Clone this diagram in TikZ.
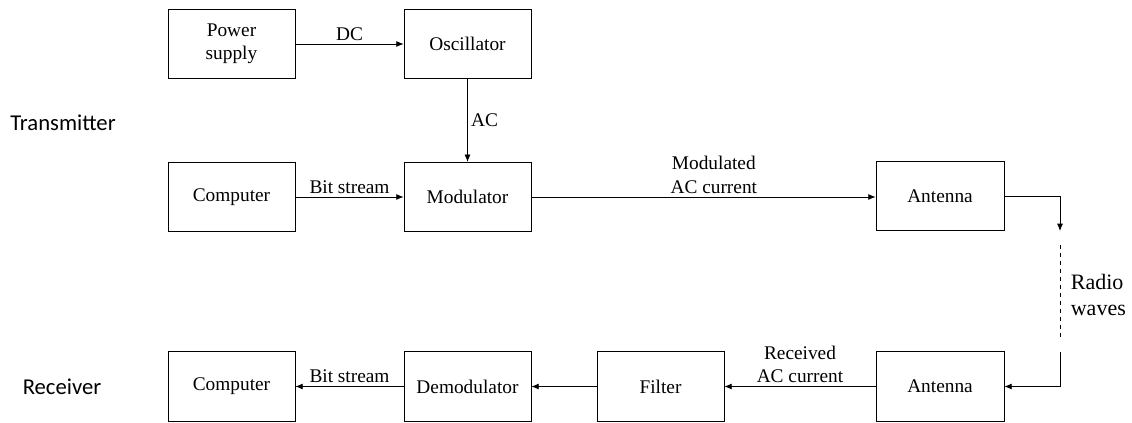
\documentclass[tikz,border=0pt]{standalone}
\usepackage{fontspec}
\setmainfont{Liberation Serif}
\newfontfamily\sidefont{Carlito}
\usetikzlibrary{arrows.meta}

\begin{document}
\begin{tikzpicture}[x=0.75pt, y=-0.75pt, line width=0.6pt, >={Latex[length=5.5pt,width=4.5pt]},
   block/.style={draw, minimum width=95.25pt, minimum height=52pt, inner sep=0pt,
                 align=center, font=\fontsize{14.5}{17.5}\selectfont},
   lbl/.style={font=\fontsize{14.5}{17.5}\selectfont, align=center, inner sep=2.5pt},
   side/.style={font=\sidefont\fontsize{17}{20}\selectfont}]
   \useasboundingbox (0,0) rectangle (1132,423);

   % transmitter
   \node[block] (psu) at (231.5, 44) {Power\\supply};
   \node[block] (osc) at (467.5, 44) {Oscillator};
   \node[block] (pctx) at (231.5, 197) {Computer};
   \node[block] (mod) at (467.5, 197) {Modulator};
   \node[block, minimum width=96pt] (anttx) at (940, 196) {Antenna};

   % receiver
   \node[block, minimum width=96pt] (antrx) at (940, 386.5) {Antenna};
   \node[block] (filt) at (660.5, 386.5) {Filter};
   \node[block] (demod) at (467.5, 386.5) {Demodulator};
   \node[block] (pcrx) at (231.5, 386.5) {Computer};

   \node[side] (tx) at (63, 123) {Transmitter};
   \node[side] (rx) at (62, 387) {Receiver};

   \draw[->] (psu) -- node[lbl, above]{DC} (osc);
   \draw[->] (osc) -- node[lbl, right]{AC} (mod);
   \draw[->] (pctx) -- node[lbl, above]{Bit stream} (mod);
   \draw[->] (mod.east) -- node[lbl, above, pos=0.53]{Modulated\\AC current} (mod.east -| anttx.west);

   % radio link
   \coordinate (w1) at (1060, 231);
   \coordinate (w2) at (1060, 245);
   \coordinate (w3) at (1060, 340);
   \coordinate (w4) at (1060, 352);
   \draw[->] (anttx.east) -| (w1);
   \draw[dashed] (w2) -- (w3);
   \node[font=\fontsize{16.5}{20}\selectfont, align=left, anchor=west] (radio) at (1066, 295) {Radio\\waves};
   \draw[->] (w4) |- (antrx.east);

   \draw[->] (antrx) -- node[lbl, above]{Received\\AC current} (filt);
   \draw[->] (filt) -- (demod);
   \draw[->] (demod) -- node[lbl, above]{Bit stream} (pcrx);

\end{tikzpicture}
\end{document}
